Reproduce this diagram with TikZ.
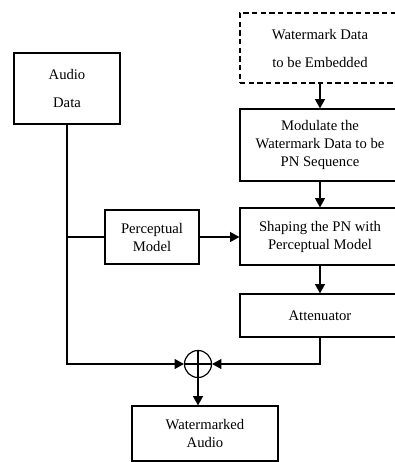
\documentclass[tikz,border=0pt]{standalone}
\usepackage{fontspec}
\setmainfont{Liberation Serif}
\usepackage{tikz}
\usetikzlibrary{arrows.meta, positioning, calc}

\begin{document}
\begin{tikzpicture}[
    x=0.75pt, y=-0.75pt,
    every node/.style={font=\fontsize{11}{13.5}\selectfont},
    >={Triangle[length=7pt, width=7.5pt]},
    line width=0.9pt,
    block/.style={rectangle, draw, align=center, inner sep=0pt},
    dashblock/.style={block, dash pattern=on 4pt off 2.5pt},
    sumnode/.style={circle, draw, minimum size=20.25pt, inner sep=0pt},
]
\useasboundingbox (0,0) rectangle (395,462);

% Input blocks
\node[dashblock, minimum width=120pt, minimum height=52.5pt] (wmdata) at (320,48) {Watermark Data\\[7.5pt]to be Embedded};
\node[block, minimum width=79.5pt, minimum height=53.25pt] (audio) at (67,88.5) {Audio\\[7.5pt]Data};

% Processing chain
\node[block, minimum width=120pt, minimum height=54pt] (modulate) at (320,145) {Modulate the\\Watermark Data to be\\PN Sequence};
\node[block, minimum width=70.5pt, minimum height=40.5pt] (percept) at (152,237) {Perceptual\\Model};
\node[block, minimum width=120pt, minimum height=42.75pt] (shaping) at (320,236.5) {Shaping the PN with\\Perceptual Model};
\node[block, minimum width=120pt, minimum height=32.25pt] (atten) at (320,315.5) {Attenuator};

% Adder and output
\node[sumnode] (sum) at (198,364) {};
\draw (sum.north) -- (sum.south) (sum.west) -- (sum.east);
\node[block, minimum width=109.5pt, minimum height=41.25pt] (output) at (205,433.5) {Watermarked\\Audio};

% Connectors
\draw[->] (wmdata.south) -- (modulate.north);
\draw[->] (modulate.south) -- (shaping.north);
\draw[->] (shaping.south) -- (atten.north);
\draw[->] (audio.south) |- (sum.west);
\draw (audio.south |- percept.west) -- (percept.west);
\draw[->] (percept.east) -- (percept.east -| shaping.west);
\draw[->] (atten.south) |- (sum.east);
\draw[->] (sum.south) -- (sum.south |- output.north);

\end{tikzpicture}
\end{document}
